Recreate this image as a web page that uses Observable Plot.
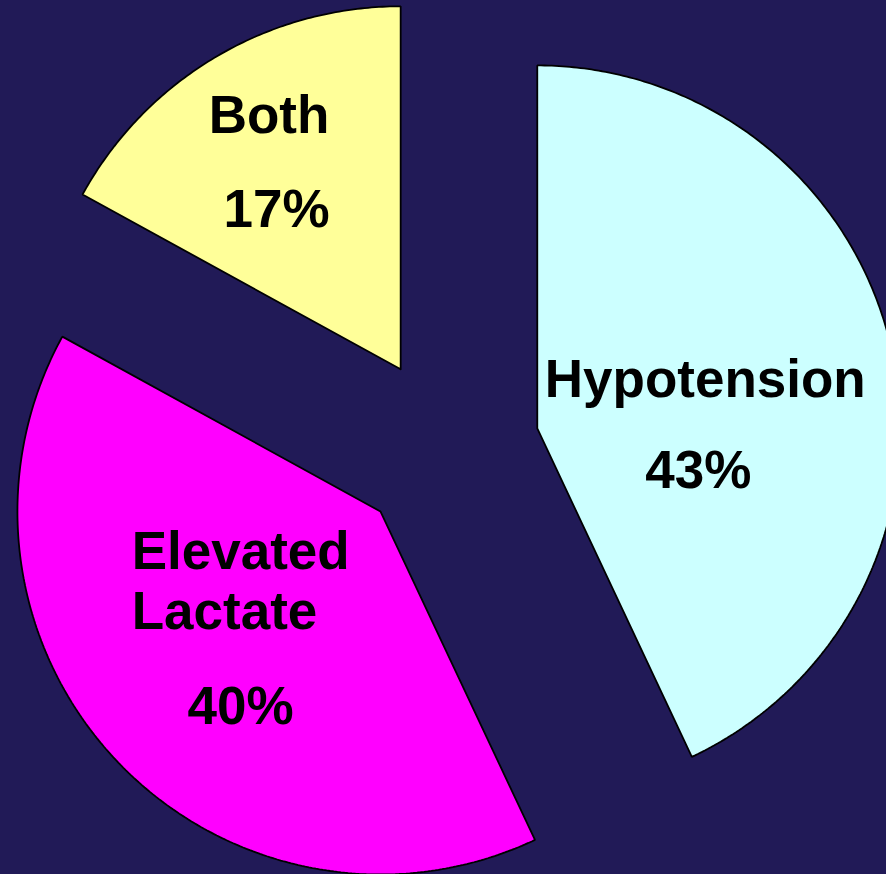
<!DOCTYPE html>
<html>
<head>
<meta charset="utf-8">
<script src="https://cdn.jsdelivr.net/npm/d3@7"></script>
<script src="https://cdn.jsdelivr.net/npm/@observablehq/plot@0.6"></script>
<style>
  html, body { margin: 0; padding: 0; background: #211a57; overflow: hidden; }
  #chart svg { display: block; }
</style>
</head>
<body>
<div id="chart"></div>
<script>
// Slices, clockwise from 12 o'clock
const categories = ["Hypotension", "Elevated\nLactate", "Both"];
const shares = [43, 40, 17];
const sliceColors = ["#ccffff", "#ff00ff", "#ffff99"];

// Layout (pixels / radius units)
const W = 886, H = 874;
const center = [447, 448];
const radius = 363;
const explode = 92 / radius;
// label anchors, in radius units from the pie centre (y up)
const nameSpots = [[0.268, 0.1405], [-0.870, -0.496], [-0.658, 0.868]];
const percentSpots = [[0.691, -0.110], [-0.570, -0.758], [-0.471, 0.609]];

// Build each exploded wedge as a closed outline
const total = d3.sum(shares);
const outline = [];
let acc = 0;
shares.forEach((v, i) => {
  const a0 = 2 * Math.PI * acc / total;
  const a1 = 2 * Math.PI * (acc + v) / total;
  acc += v;
  const mid = (a0 + a1) / 2;
  const ox = explode * Math.sin(mid), oy = explode * Math.cos(mid);
  const n = Math.max(2, Math.ceil((a1 - a0) / 0.01));
  outline.push({slice: categories[i], x: ox, y: oy});
  for (let k = 0; k <= n; k++) {
    const a = a0 + (a1 - a0) * k / n;
    outline.push({slice: categories[i], x: ox + Math.sin(a), y: oy + Math.cos(a)});
  }
  outline.push({slice: categories[i], x: ox, y: oy});
});

const font = {fontFamily: "'Liberation Sans', Arial, sans-serif", fontWeight: "bold", fontSize: 53};

const chart = Plot.plot({
  width: W,
  height: H,
  margin: 0,
  style: {background: "#211a57", overflow: "hidden"},
  x: {domain: [-center[0] / radius, (W - center[0]) / radius], axis: null},
  y: {domain: [-(H - center[1]) / radius, center[1] / radius], axis: null},
  color: {domain: categories, range: sliceColors},
  marks: [
    Plot.line(outline, {
      x: "x", y: "y", z: "slice", fill: "slice",
      stroke: "black", strokeWidth: 1.8, strokeLinejoin: "miter",
      curve: "linear", clip: true
    }),
    Plot.text(categories, {
      x: (d, i) => nameSpots[i][0],
      y: (d, i) => nameSpots[i][1],
      text: d => d,
      textAnchor: "start", lineAnchor: "bottom", lineHeight: 1.13,
      fill: "black", ...font
    }),
    Plot.text(shares, {
      x: (d, i) => percentSpots[i][0],
      y: (d, i) => percentSpots[i][1],
      text: d => `${d}%`,
      textAnchor: "middle", lineAnchor: "bottom",
      fill: "black", ...font
    })
  ]
});

document.getElementById("chart").appendChild(chart);
</script>
</body>
</html>
